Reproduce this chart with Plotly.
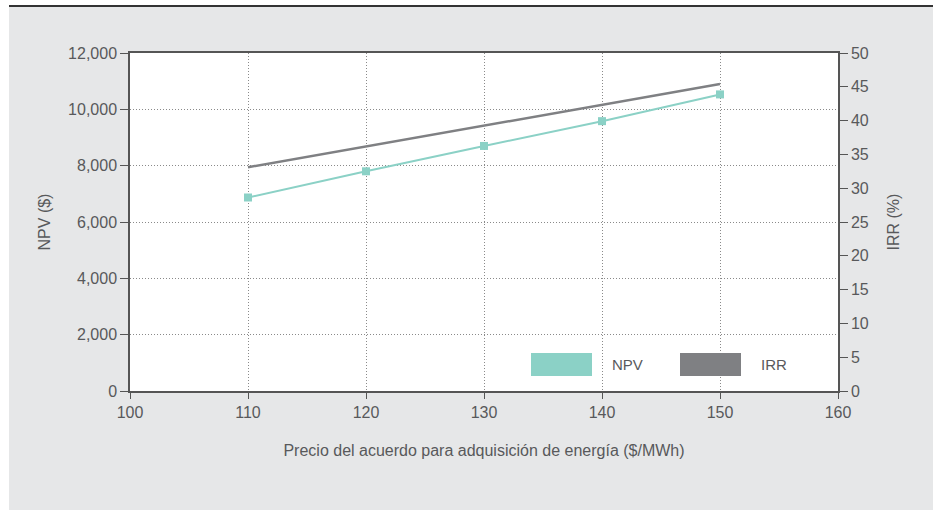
import plotly.graph_objects as go

price = [110, 120, 130, 140, 150]
npv = [6870, 7800, 8700, 9580, 10530]
irr = [33.1, 36.2, 39.2, 42.3, 45.4]

x_ticks = [100, 110, 120, 130, 140, 150, 160]
npv_ticks = [0, 2000, 4000, 6000, 8000, 10000, 12000]
irr_ticks = list(range(0, 55, 5))

TEAL = "#8bd1c6"
GRAY = "#7f8083"
BG = "#e6e7e8"
TXT = "#58595b"
AX = "#555555"
GRID = "#8a8a8a"

W, H = 937, 510
L, R, T, B = 130, 99, 53, 119
pw, ph = W - L - R, H - T - B


def px(x):
    return (x - L) / pw


def py(y):
    return (H - B - y) / ph


fig = go.Figure()
fig.add_trace(go.Scatter(x=price, y=irr, yaxis="y2", mode="lines",
                         line=dict(color=GRAY, width=2.5), name="IRR", showlegend=False))
fig.add_trace(go.Scatter(x=price, y=npv, mode="lines+markers",
                         line=dict(color=TEAL, width=2),
                         marker=dict(symbol="square", size=8, color=TEAL),
                         name="NPV", showlegend=False))

shapes = [
    dict(type="rect", xref="paper", yref="paper", x0=px(9), x1=px(933), y0=py(512), y1=py(7),
         fillcolor=BG, line=dict(width=0), layer="below"),
    dict(type="rect", xref="paper", yref="paper", x0=0, x1=1, y0=0, y1=1,
         fillcolor="white", line=dict(width=0), layer="below"),
    dict(type="line", xref="paper", yref="paper", x0=px(9), x1=px(933), y0=py(6), y1=py(6),
         line=dict(color="#333333", width=2)),
    dict(type="rect", xref="paper", yref="paper", x0=px(531), x1=px(592), y0=py(376), y1=py(353),
         fillcolor=TEAL, line=dict(width=0)),
    dict(type="rect", xref="paper", yref="paper", x0=px(680), x1=px(741), y0=py(376), y1=py(353),
         fillcolor=GRAY, line=dict(width=0)),
]
annotations = [
    dict(text="NPV", xref="paper", yref="paper", x=px(610), y=py(364.5), xanchor="left",
         yanchor="middle", showarrow=False, font=dict(size=15, color=TXT)),
    dict(text="IRR", xref="paper", yref="paper", x=px(759), y=py(364.5), xanchor="left",
         yanchor="middle", showarrow=False, font=dict(size=15, color=TXT)),
]

fig.update_layout(
    width=W, height=H,
    margin=dict(l=L, r=R, t=T, b=B),
    paper_bgcolor="white",
    plot_bgcolor="rgba(0,0,0,0)",
    font=dict(family="Liberation Sans, Arial, sans-serif", size=16, color=TXT),
    shapes=shapes,
    annotations=annotations,
    xaxis=dict(
        range=[100, 160], tickvals=x_ticks, ticks="outside", ticklen=6, tickcolor=AX,
        showline=True, linecolor=AX, linewidth=1.5, mirror=True,
        showgrid=True, gridcolor=GRID, griddash="1px,2px", gridwidth=1,
        zeroline=False, tickfont=dict(size=16),
        title=dict(text="Precio del acuerdo para adquisición de energía ($/MWh)",
                   font=dict(size=16, color=TXT), standoff=25),
    ),
    yaxis=dict(
        range=[0, 12000], tickvals=npv_ticks, tickformat=",", ticks="outside", ticklen=8,
        tickcolor=AX, showline=True, linecolor=AX, linewidth=1.5,
        showgrid=True, gridcolor=GRID, griddash="1px,2px", gridwidth=1,
        zeroline=False, tickfont=dict(size=16),
        title=dict(text="NPV ($)", font=dict(size=16, color=TXT), standoff=14),
    ),
    yaxis2=dict(
        range=[0, 50], tickvals=irr_ticks, overlaying="y", side="right",
        ticks="outside", ticklen=8, tickcolor=AX, showline=True, linecolor=AX, linewidth=1.5,
        showgrid=False, zeroline=False, tickfont=dict(size=16),
        title=dict(text="IRR (%)", font=dict(size=16, color=TXT), standoff=20),
    ),
)

fig.write_html("out.html", config={"displayModeBar": False},
               post_script="document.body.style.margin='0px';")
